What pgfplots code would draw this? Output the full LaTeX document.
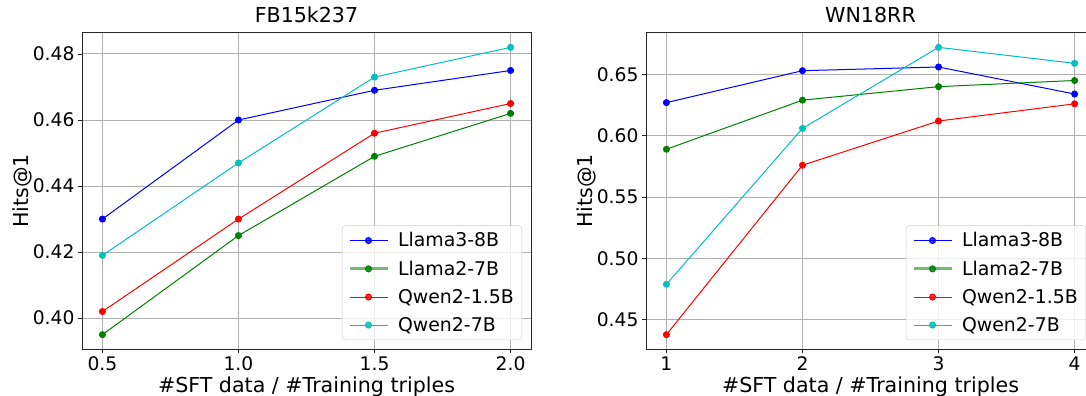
\documentclass[border=0pt]{standalone}
\usepackage{pgfplots}
\pgfplotsset{compat=1.18}
\usepackage{fontspec}
\setmainfont{DejaVu Sans}
\definecolor{mplgreen}{rgb}{0,0.5,0}
\definecolor{mplcyan}{rgb}{0,0.75,0.75}
\definecolor{gridgray}{RGB}{176,176,176}
\definecolor{leggray}{RGB}{204,204,204}
\pgfplotsset{
  mystyle/.style={
    scale only axis,
    width=449bp, height=316bp,
    anchor=south west,
    /pgf/number format/assume math mode=true,
    tick label style={font=\fontsize{18.7bp}{22bp}\selectfont},
    label style={font=\fontsize{20.6bp}{24bp}\selectfont},
    title style={font=\fontsize{20.6bp}{24bp}\selectfont, at={(axis description cs:0.5,1)}, anchor=base, yshift=5bp},
    xlabel style={at={(axis description cs:0.5,0)}, anchor=base, yshift=-43.5bp},
    ylabel style={at={(axis description cs:0,0.5)}, anchor=center, yshift=60bp},
    ylabel={Hits@1},
    xlabel={\#SFT data / \#Training triples},
    grid=major,
    major grid style={gridgray, line width=1bp},
    axis line style={black!85, line width=1bp},
    tick align=outside,
    major tick length=4bp,
    tick style={black!85, line width=0.9bp},
    xtick pos=bottom, ytick pos=left,
    every axis plot/.append style={line width=1bp, mark=*, mark size=3bp, mark options={solid}},
    legend style={at={(1,0)}, anchor=south east, xshift=-9bp, yshift=9bp,
      draw=leggray, rounded corners=3bp, fill=white, fill opacity=0.8, text opacity=1,
      font=\fontsize{18.9bp}{22bp}\selectfont, row sep=8.5bp, inner xsep=6bp, inner ysep=5bp,
      cells={anchor=west}},
    legend image code/.code={\draw[mark repeat=2,mark phase=2] plot coordinates {(0bp,0bp) (19bp,0bp) (38bp,0bp)}; \path (46bp,0bp);},
  },
  greenleg/.style={legend image code/.code={
    \draw[line width=2.8bp, draw opacity=0.55, mark=none] (0bp,0bp) -- (38bp,0bp);
    \draw plot coordinates {(19bp,0bp)}; \path (46bp,0bp);}},
}
\begin{document}
\begin{tikzpicture}
\path[use as bounding box] (0,0) rectangle (1086bp,396bp);
\begin{axis}[mystyle, at={(82bp,47bp)},
  title={FB15k237},
  xmin=0.425, xmax=2.075, ymin=0.39065, ymax=0.48635,
  xtick={0.5,1.0,1.5,2.0}, xticklabels={0.5,1.0,1.5,2.0},
  ytick={0.40,0.42,0.44,0.46,0.48}, yticklabels={0.40,0.42,0.44,0.46,0.48},
]
\addplot[blue] coordinates {(0.5,0.430) (1.0,0.460) (1.5,0.469) (2.0,0.475)};
\addlegendentry{Llama3-8B}
\addplot[mplgreen, greenleg] coordinates {(0.5,0.395) (1.0,0.425) (1.5,0.449) (2.0,0.462)};
\addlegendentry{Llama2-7B}
\addplot[red] coordinates {(0.5,0.402) (1.0,0.430) (1.5,0.456) (2.0,0.465)};
\addlegendentry{Qwen2-1.5B}
\addplot[mplcyan] coordinates {(0.5,0.419) (1.0,0.447) (1.5,0.473) (2.0,0.482)};
\addlegendentry{Qwen2-7B}
\end{axis}
\begin{axis}[mystyle, at={(646bp,47bp)},
  title={WN18RR},
  xmin=0.85, xmax=4.15, ymin=0.4263, ymax=0.6837,
  xtick={1,2,3,4},
  ytick={0.45,0.50,0.55,0.60,0.65}, yticklabels={0.45,0.50,0.55,0.60,0.65},
]
\addplot[blue] coordinates {(1,0.627) (2,0.653) (3,0.656) (4,0.634)};
\addlegendentry{Llama3-8B}
\addplot[mplgreen, greenleg] coordinates {(1,0.589) (2,0.629) (3,0.640) (4,0.645)};
\addlegendentry{Llama2-7B}
\addplot[red] coordinates {(1,0.438) (2,0.576) (3,0.612) (4,0.626)};
\addlegendentry{Qwen2-1.5B}
\addplot[mplcyan] coordinates {(1,0.479) (2,0.606) (3,0.672) (4,0.659)};
\addlegendentry{Qwen2-7B}
\end{axis}
\end{tikzpicture}
\end{document}
